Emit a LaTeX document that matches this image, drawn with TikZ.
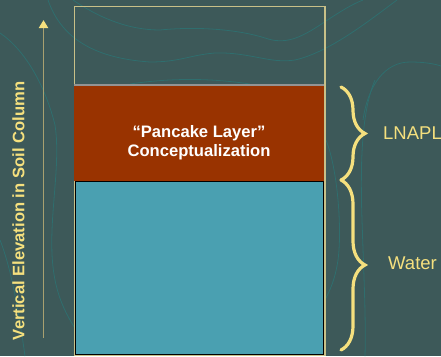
\documentclass[tikz,border=0pt]{standalone}
\usepackage{fontspec}
\setmainfont{Liberation Sans}
\usetikzlibrary{arrows.meta,decorations.pathreplacing}
\definecolor{bg}{HTML}{3D5959}
\definecolor{contour}{HTML}{2F6E6E}
\definecolor{frameline}{HTML}{C8C088}
\definecolor{napl}{HTML}{993300}
\definecolor{water}{HTML}{4AA0B1}
\definecolor{shaft}{HTML}{A8A070}
\definecolor{pale}{HTML}{F5E07E}
\tikzset{
  contourline/.style={draw=contour, line width=0.8pt},
  layerlabel/.style={text=pale, font=\fontsize{18.5}{20}\selectfont, anchor=west, inner sep=0pt},
  curly/.style={draw=pale, line width=3.2pt, line cap=round, decorate,
    decoration={brace, amplitude=24pt}},
}
\begin{document}
\begin{tikzpicture}[x=1pt, y=-1pt]
  \fill[bg] (0,0) rectangle (441,356);
  \useasboundingbox (0,0) rectangle (441,356);

  % faint terrain contours in the backdrop
  \draw[contourline] (0,33) .. controls (25,50) and (45,85) .. (55,125)
    .. controls (62,170) and (45,230) .. (55,280) .. controls (60,305) and (70,320) .. (76,330);
  \draw[contourline] (48,0) .. controls (60,35) and (90,58) .. (150,62)
    .. controls (180,62) and (190,55) .. (215,53) .. controls (250,52) and (270,64) .. (295,60)
    .. controls (330,52) and (370,20) .. (397,0);
  \draw[contourline] (73,0) .. controls (95,15) and (125,30) .. (160,30)
    .. controls (200,26) and (240,30) .. (265,38) .. controls (285,45) and (300,38) .. (320,25)
    .. controls (335,15) and (350,5) .. (363,0);
  \draw[contourline] (130,84) .. controls (170,78) and (210,78) .. (250,84);
  \draw[contourline] (363,120) .. controls (368,85) and (385,62) .. (410,62)
    .. controls (425,62) and (435,64) .. (441,66);
  \draw[contourline] (375,80) .. controls (362,110) and (360,160) .. (362,220)
    .. controls (364,280) and (366,320) .. (365,356);
  \draw[contourline] (326,140) .. controls (338,170) and (342,230) .. (338,260)
    .. controls (335,280) and (330,290) .. (325,300);
  \draw[contourline] (0,240) .. controls (12,270) and (20,320) .. (25,356);

  % soil column frame and layers
  \node[draw=frameline, line width=1.5pt, minimum width=250.5pt, minimum height=349pt,
    inner sep=0pt, anchor=north west] (column) at (73.5,5.5) {};
  \node[fill=napl, minimum width=250pt, minimum height=95.5pt, inner sep=0pt,
    anchor=north west] (lnapl) at (74,85) {};
  \draw[gray!85, line width=2pt] (lnapl.north west) -- (lnapl.north east);
  \node[align=center, text=white, inner sep=0pt,
    font=\bfseries\fontsize{16.6}{19}\selectfont] (lnapltext) at (199,143)
    {“Pancake Layer”\\Conceptualization};
  \node[fill=water, draw=black, line width=1pt, minimum width=248pt, minimum height=173pt,
    inner sep=0pt, anchor=north west] (waterbox) at (75,181) {};

  % elevation axis
  \coordinate (axisbot) at (43.5,338);
  \coordinate (axistop) at (43.5,20);
  \draw[shaft, line width=1.8pt,
    -{Triangle[width=9pt, length=8pt, color=pale, fill=pale]}] (axisbot) -- (axistop);
  \node[rotate=90, text=pale, font=\bfseries\fontsize{16.6}{19}\selectfont, inner sep=0pt]
    (axislabel) at (18.5,211) {Vertical Elevation in Soil Column};

  % braces marking the two layers
  \coordinate (b1top) at (341,87);
  \coordinate (b1bot) at (341,180);
  \coordinate (b2top) at (341,180);
  \coordinate (b2bot) at (341,350);
  \draw[curly] (b1top) -- (b1bot);
  \draw[curly] (b2top) -- (b2bot);
  \node[layerlabel] (lnapllabel) at (383,133) {LNAPL};
  \node[layerlabel] (waterlabel) at (388,263) {Water};
\end{tikzpicture}
\end{document}
